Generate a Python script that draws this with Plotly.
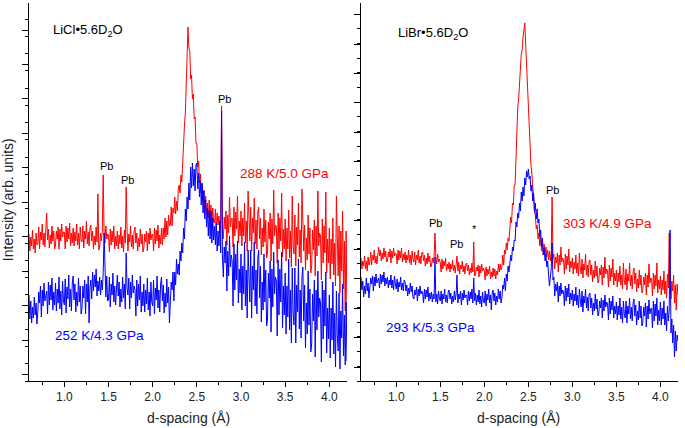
import plotly.graph_objects as go

# d-spacing grid (Å), 0.60 .. 4.20 in steps of 0.01
d_spacing = [round(0.60 + 0.01 * i, 2) for i in range(361)]

# ---- LiCl·5.6D2O panel (intensity, arb. units) ----
licl_288K = [
    147, 130, 144, 135, 151, 132, 142, 128, 148, 136,
    137, 154, 132, 149, 141, 157, 136, 148, 134, 152,
    168, 141, 152, 133, 146, 137, 155, 140, 150, 132,
    136, 150, 142, 154, 132, 152, 140, 157, 144, 149,
    149, 132, 155, 139, 153, 142, 158, 135, 148, 138,
    153, 135, 149, 140, 157, 136, 148, 132, 154, 141,
    139, 155, 133, 150, 142, 160, 137, 149, 135, 153,
    156, 140, 150, 132, 145, 136, 154, 139, 187, 131,
    134, 148, 140, 151, 206, 149, 138, 155, 142, 147,
    146, 129, 152, 136, 150, 139, 155, 132, 145, 135,
    150, 132, 146, 137, 154, 133, 145, 129, 151, 138,
    194, 152, 130, 147, 139, 155, 134, 146, 132, 150,
    154, 138, 148, 130, 143, 134, 152, 137, 147, 129,
    133, 147, 139, 150, 130, 148, 137, 153, 141, 146,
    147, 130, 153, 137, 151, 140, 156, 133, 146, 137,
    153, 136, 153, 142, 163, 144, 160, 146, 166, 155,
    156, 174, 155, 173, 168, 184, 167, 180, 170, 192,
    196, 188, 206, 199, 222, 226, 256, 268, 310, 325,
    354, 333, 330, 302, 306, 282, 287, 262, 264, 238,
    238, 214, 220, 198, 207, 188, 197, 180, 191, 172,
    185, 166, 178, 163, 181, 160, 176, 154, 173, 160,
    158, 172, 150, 168, 156, 165, 151, 162, 275, 150,
    142, 164, 152, 170, 136, 166, 148, 184, 154, 162,
    163, 134, 174, 145, 169, 152, 185, 138, 160, 145,
    170, 135, 163, 145, 178, 138, 160, 130, 190, 147,
    140, 174, 130, 163, 148, 183, 137, 161, 132, 169,
    174, 142, 163, 126, 153, 134, 172, 139, 161, 123,
    128, 159, 142, 168, 120, 162, 137, 191, 145, 156,
    154, 118, 168, 132, 163, 140, 188, 124, 152, 132,
    162, 120, 153, 132, 171, 123, 150, 114, 185, 135,
    127, 166, 115, 154, 136, 178, 124, 151, 118, 192,
    169, 130, 156, 111, 143, 121, 166, 127, 153, 108,
    115, 151, 131, 161, 105, 155, 125, 190, 135, 148,
    145, 101, 162, 118, 155, 128, 189, 108, 142, 118,
    153, 102, 142, 117, 163, 106, 138, 95, 185, 120,
    105, 155, 88, 150, 110, 170, 92, 140, 70, 150,
    62,
]
licl_252K = [
    86, 62, 80, 58, 74, 63, 84, 66, 78, 57,
    69, 89, 78, 95, 64, 91, 75, 98, 80, 87,
    90, 67, 99, 76, 96, 81, 103, 71, 89, 76,
    98, 70, 92, 78, 104, 72, 90, 66, 100, 80,
    76, 102, 68, 94, 82, 106, 74, 92, 70, 98,
    105, 81, 97, 69, 89, 75, 103, 79, 95, 67,
    73, 95, 83, 101, 67, 97, 79, 105, 58, 93,
    101, 82, 109, 90, 106, 94, 112, 85, 100, 90,
    104, 86, 101, 91, 108, 148, 98, 84, 105, 80,
    81, 104, 74, 97, 86, 108, 79, 95, 76, 101,
    106, 85, 99, 74, 92, 79, 104, 83, 97, 72,
    128, 93, 86, 103, 72, 99, 83, 106, 88, 95,
    91, 65, 101, 75, 97, 81, 105, 69, 89, 75,
    97, 69, 91, 77, 103, 71, 89, 65, 99, 79,
    75, 101, 67, 93, 81, 105, 73, 91, 69, 97,
    104, 80, 96, 68, 88, 74, 102, 78, 94, 58,
    78, 99, 91, 109, 80, 109, 96, 122, 107, 117,
    106, 130, 120, 138, 128, 153, 142, 172, 160, 184,
    172, 198, 181, 214, 193, 218, 195, 212, 190, 216,
    218, 192, 208, 184, 200, 176, 198, 168, 190, 162,
    181, 154, 173, 145, 171, 142, 170, 138, 163, 141,
    155, 136, 158, 130, 150, 135, 160, 128, 270, 124,
    104, 134, 118, 140, 90, 130, 105, 145, 114, 126,
    120, 75, 137, 91, 127, 101, 140, 78, 112, 88,
    127, 71, 115, 87, 139, 75, 111, 63, 131, 91,
    79, 131, 63, 115, 91, 139, 75, 111, 67, 123,
    131, 83, 115, 59, 99, 71, 127, 79, 111, 55,
    62, 108, 83, 120, 49, 112, 74, 129, 87, 104,
    100, 45, 121, 66, 112, 79, 129, 53, 95, 66,
    108, 47, 95, 64, 122, 51, 91, 38, 113, 69,
    56, 113, 38, 96, 69, 122, 52, 91, 43, 104,
    114, 60, 96, 33, 78, 47, 110, 56, 92, 29,
    37, 87, 60, 101, 24, 91, 51, 110, 64, 83,
    78, 19, 100, 42, 91, 55, 109, 28, 73, 42,
    86, 23, 73, 41, 99, 27, 68, 14, 90, 45,
    30, 88, 12, 70, 43, 97, 25, 66, 16, 79,
    20,
]

# ---- LiBr·5.6D2O panel (intensity, arb. units) ----
libr_303K = [
    123, 112, 120, 115, 125, 112, 120, 110, 124, 116,
    119, 129, 116, 126, 121, 131, 118, 125, 117, 128,
    134, 125, 131, 120, 128, 122, 133, 124, 130, 119,
    120, 129, 124, 132, 118, 130, 123, 133, 125, 128,
    127, 117, 131, 121, 130, 123, 133, 119, 127, 121,
    129, 118, 126, 121, 131, 118, 126, 116, 130, 122,
    119, 129, 116, 126, 121, 131, 118, 125, 117, 128,
    129, 120, 126, 115, 123, 117, 128, 119, 125, 114,
    115, 123, 118, 125, 148, 124, 117, 127, 119, 122,
    118, 109, 122, 112, 120, 115, 123, 110, 117, 112,
    119, 109, 117, 112, 121, 110, 116, 108, 120, 125,
    110, 119, 107, 116, 112, 120, 109, 115, 107, 117,
    118, 110, 116, 106, 113, 108, 118, 109, 139, 105,
    106, 114, 110, 116, 104, 115, 108, 117, 110, 113,
    110, 101, 114, 105, 112, 107, 115, 102, 109, 104,
    113, 105, 112, 102, 110, 106, 117, 109, 117, 111,
    114, 126, 116, 131, 127, 138, 131, 143, 140, 157,
    164, 158, 178, 176, 196, 196, 228, 242, 274, 282,
    303, 312, 327, 331, 344, 349, 358, 337, 316, 287,
    268, 244, 238, 216, 208, 188, 184, 168, 166, 152,
    156, 142, 148, 135, 144, 130, 140, 126, 137, 126,
    134, 124, 131, 121, 130, 120, 128, 184, 122, 127,
    112, 124, 118, 128, 109, 126, 116, 134, 119, 123,
    121, 107, 127, 112, 125, 116, 132, 109, 120, 113,
    123, 107, 119, 112, 126, 108, 118, 105, 128, 113,
    107, 122, 103, 117, 111, 127, 106, 116, 104, 120,
    121, 106, 116, 99, 111, 103, 120, 105, 115, 98,
    100, 113, 106, 116, 96, 114, 103, 124, 107, 112,
    110, 94, 116, 100, 113, 104, 122, 96, 108, 100,
    111, 94, 108, 99, 115, 96, 106, 92, 118, 100,
    96, 112, 91, 107, 100, 118, 95, 106, 92, 109,
    113, 97, 108, 89, 102, 93, 111, 96, 106, 88,
    90, 104, 96, 108, 86, 106, 94, 117, 98, 103,
    102, 85, 108, 92, 106, 95, 118, 88, 101, 92,
    105, 86, 101, 91, 110, 87, 100, 83, 107, 93,
    148, 104, 82, 100, 90, 106, 78, 96, 71, 97,
    86,
]
libr_293K = [
    104, 91, 100, 84, 95, 87, 103, 90, 98, 83,
    93, 103, 97, 105, 90, 104, 95, 107, 98, 102,
    103, 93, 107, 97, 106, 99, 109, 95, 103, 97,
    104, 93, 101, 96, 106, 93, 101, 91, 105, 97,
    92, 102, 89, 99, 94, 104, 91, 98, 90, 101,
    99, 90, 96, 85, 93, 87, 98, 89, 95, 84,
    82, 91, 86, 94, 80, 92, 85, 95, 87, 90,
    88, 78, 92, 82, 91, 84, 94, 80, 88, 82,
    89, 79, 87, 82, 124, 79, 87, 77, 90, 83,
    80, 90, 77, 87, 82, 92, 79, 86, 78, 89,
    91, 82, 88, 77, 85, 79, 90, 81, 87, 106,
    78, 87, 82, 90, 76, 88, 81, 91, 83, 86,
    86, 76, 90, 80, 89, 82, 92, 78, 103, 80,
    88, 76, 86, 79, 91, 77, 85, 74, 89, 80,
    78, 90, 75, 87, 81, 92, 78, 86, 71, 88,
    91, 80, 88, 76, 85, 79, 92, 82, 90, 78,
    83, 96, 92, 103, 90, 107, 100, 115, 109, 117,
    126, 120, 134, 130, 141, 140, 159, 154, 168, 163,
    178, 170, 189, 180, 194, 185, 203, 196, 210, 204,
    212, 202, 205, 190, 196, 180, 188, 170, 178, 162,
    172, 158, 162, 144, 151, 134, 143, 126, 133, 120,
    127, 114, 120, 106, 95, 104, 112, 138, 101, 104,
    85, 97, 90, 99, 79, 95, 85, 98, 87, 91,
    89, 75, 95, 80, 93, 84, 97, 77, 88, 81,
    91, 75, 87, 80, 94, 76, 86, 73, 92, 81,
    74, 90, 69, 85, 78, 92, 73, 84, 70, 87,
    88, 73, 83, 66, 78, 70, 87, 72, 82, 65,
    67, 80, 73, 83, 63, 81, 70, 86, 74, 79,
    77, 61, 83, 67, 80, 71, 85, 63, 75, 67,
    79, 61, 75, 66, 83, 62, 74, 58, 80, 67,
    63, 80, 58, 75, 67, 83, 62, 74, 60, 78,
    82, 65, 76, 56, 70, 61, 80, 63, 75, 55,
    58, 74, 65, 78, 54, 75, 62, 81, 67, 72,
    73, 53, 80, 60, 77, 65, 83, 56, 71, 60,
    79, 56, 73, 62, 80, 56, 68, 50, 75, 60,
    70, 151, 48, 62, 38, 56, 24, 50, 30, 46,
    40,
]

for arr in (licl_288K, licl_252K, libr_303K, libr_293K):
    assert len(arr) == len(d_spacing), len(arr)

RED = "#ff0000"
BLUE = "#0000ff"
FONT = "Arial, Liberation Sans, sans-serif"

fig = go.Figure()
fig.add_trace(go.Scatter(x=d_spacing, y=licl_288K, mode="lines", line=dict(color=RED, width=1),
                         xaxis="x", yaxis="y", name="288 K/5.0 GPa"))
fig.add_trace(go.Scatter(x=d_spacing, y=licl_252K, mode="lines", line=dict(color=BLUE, width=1),
                         xaxis="x", yaxis="y", name="252 K/4.3 GPa"))
fig.add_trace(go.Scatter(x=d_spacing, y=libr_303K, mode="lines", line=dict(color=RED, width=1),
                         xaxis="x2", yaxis="y2", name="303 K/4.9 GPa"))
fig.add_trace(go.Scatter(x=d_spacing, y=libr_293K, mode="lines", line=dict(color=BLUE, width=1),
                         xaxis="x2", yaxis="y2", name="293 K/5.3 GPa"))

XR = [0.6, 4.2]
YR = [0, 378]

def xax(domain, anchor, **kw):
    d = dict(domain=domain, anchor=anchor, range=XR, showline=True, linecolor="black", linewidth=1,
             ticks="outside", ticklen=5, tickwidth=1, tickcolor="black", tick0=1.0, dtick=0.5,
             tickformat=".1f", tickfont=dict(family=FONT, size=12, color="#222"),
             minor=dict(ticks="outside", ticklen=3, tickcolor="black", dtick=0.25),
             showgrid=False, zeroline=False, fixedrange=True, automargin=False)
    d.update(kw)
    return d

def yax(anchor, tick0, dtick, **kw):
    d = dict(domain=[0, 1], anchor=anchor, range=YR, showline=True, linecolor="black", linewidth=1,
             ticks="outside", ticklen=6, tickwidth=1, tickcolor="black", tick0=tick0, dtick=dtick,
             showticklabels=False,
             minor=dict(ticks="outside", ticklen=3.5, tickcolor="black", dtick=dtick / 2),
             showgrid=False, zeroline=False, fixedrange=True, automargin=False)
    d.update(kw)
    return d

LD = [0, 0.49]
RD = [0.5116, 1]

fig.update_layout(
    width=685, height=428,
    margin=dict(l=29, r=7, t=3, b=47, autoexpand=False),
    paper_bgcolor="white", plot_bgcolor="white",
    showlegend=False, hovermode=False,
    font=dict(family=FONT, size=12, color="black"),
    xaxis=xax(LD, "y"),
    yaxis=yax("x", 6.5, 34.45),
    xaxis2=xax(RD, "y2"),
    yaxis2=yax("x2", 14, 29.36),
    xaxis3=xax(LD, "y", overlaying="x", side="top", ticks="inside", showticklabels=False,
               minor=dict(ticks="inside", ticklen=3, tickcolor="black", dtick=0.25)),
    yaxis3=yax("x", 6.5, 34.45, overlaying="y", side="right", ticks="inside",
               minor=dict(ticks="inside", ticklen=3.5, tickcolor="black", dtick=17.225)),
    xaxis4=xax(RD, "y2", overlaying="x2", side="top", ticks="inside", showticklabels=False,
               minor=dict(ticks="inside", ticklen=3, tickcolor="black", dtick=0.25)),
    yaxis4=yax("x2", 14, 29.36, overlaying="y2", side="right", ticks="inside",
               minor=dict(ticks="inside", ticklen=3.5, tickcolor="black", dtick=14.68)),
)

def note(text, x, y, xref, yref, size=11, color="black", **kw):
    fig.add_annotation(text=text, x=x, y=y, xref=xref, yref=yref, showarrow=False,
                       xanchor="center", yanchor="middle",
                       font=dict(family=FONT, size=size, color=color), **kw)

# left panel labels
note("LiCl•5.6D<sub>2</sub>O", 1.268, 351, "x", "y", size=13)
note("Pb", 1.48, 215, "x", "y")
note("Pb", 1.72, 201, "x", "y")
note("Pb", 2.815, 282, "x", "y")
note("288 K/5.0 GPa", 3.497, 208, "x", "y", size=13.5, color=RED)
note("252 K/4.3 GPa", 1.393, 46, "x", "y", size=13.5, color=BLUE)

# right panel labels
note("LiBr•5.6D<sub>2</sub>O", 1.4125, 348, "x2", "y2", size=13)
note("Pb", 1.449, 158, "x2", "y2")
note("Pb", 1.6875, 137, "x2", "y2")
note("*", 1.884, 152, "x2", "y2")
note("Pb", 2.78, 191, "x2", "y2")
note("303 K/4.9 GPa", 3.395, 158, "x2", "y2", size=13.5, color=RED)
note("293 K/5.3 GPa", 1.39, 54, "x2", "y2", size=13.5, color=BLUE)

# axis titles
note("Intensity (arb. units)", -0.032, 0.479, "paper", "paper", size=14, color="#222", textangle=-90)
note("d-spacing (Å)", 0.245, -0.098, "paper", "paper", size=14, color="#222")
note("d-spacing (Å)", 0.755, -0.098, "paper", "paper", size=14, color="#222")

fig.write_html("out.html", config={"displayModeBar": False, "staticPlot": True},
               post_script="document.body.style.margin='0';document.body.style.overflow='hidden';")
